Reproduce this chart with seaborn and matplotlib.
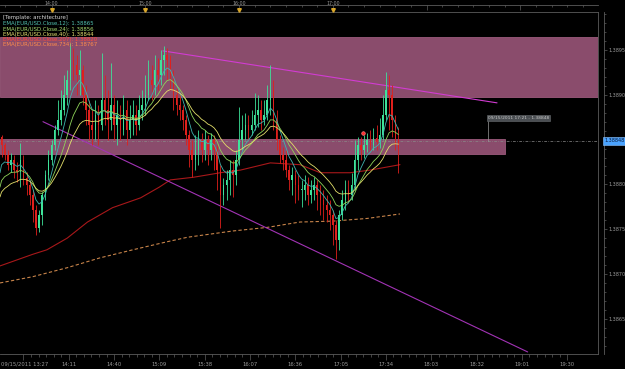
import numpy as np
import pandas as pd
import matplotlib
matplotlib.use("Agg")
import matplotlib.pyplot as plt
import matplotlib.transforms as mtrans
from matplotlib.patches import Rectangle
from matplotlib.ticker import FixedLocator
import seaborn as sns

# ---------------- data ----------------
bar_minutes = 2            # one candle = 2 minutes, t = minutes after 13:27
first_open = 1.38853
closes = [1.38844, 1.38833, 1.38822, 1.38827, 1.38816, 1.38814, 1.38827, 1.38807, 1.38799, 1.38788,
          1.38771, 1.38751, 1.38766, 1.38788, 1.38810, 1.38827, 1.38844, 1.38861, 1.38872, 1.38883,
          1.38900, 1.38917, 1.38939, 1.38933, 1.38922, 1.38928, 1.38900, 1.38883, 1.38866, 1.38861,
          1.38877, 1.38866, 1.38894, 1.38883, 1.38872, 1.38889, 1.38866, 1.38877, 1.38861, 1.38883,
          1.38861, 1.38872, 1.38877, 1.38866, 1.38883, 1.38889, 1.38900, 1.38917, 1.38911, 1.38928,
          1.38922, 1.38939, 1.38944, 1.38939, 1.38922, 1.38900, 1.38889, 1.38883, 1.38872, 1.38855,
          1.38838, 1.38827, 1.38838, 1.38850, 1.38838, 1.38850, 1.38838, 1.38850, 1.38838, 1.38816,
          1.38788, 1.38799, 1.38805, 1.38816, 1.38810, 1.38827, 1.38850, 1.38861, 1.38866, 1.38861,
          1.38866, 1.38877, 1.38883, 1.38872, 1.38877, 1.38894, 1.38905, 1.38872, 1.38850, 1.38833,
          1.38827, 1.38816, 1.38805, 1.38810, 1.38799, 1.38794, 1.38794, 1.38799, 1.38788, 1.38794,
          1.38799, 1.38788, 1.38783, 1.38777, 1.38771, 1.38766, 1.38755, 1.38738, 1.38766, 1.38783,
          1.38794, 1.38788, 1.38799, 1.38827, 1.38844, 1.38838, 1.38844, 1.38850, 1.38844, 1.38852,
          1.38847, 1.38855, 1.38877, 1.38905, 1.38900, 1.38872, 1.38850, 1.38841]
highs = [1.38855, 1.38846, 1.38838, 1.38835, 1.38833, 1.38825, 1.38846, 1.38833, 1.38814, 1.38805,
         1.38794, 1.38777, 1.38771, 1.38792, 1.38816, 1.38838, 1.38850, 1.38866, 1.38894, 1.38905,
         1.38922, 1.38928, 1.38958, 1.38952, 1.38944, 1.38950, 1.38933, 1.38911, 1.38894, 1.38883,
         1.38894, 1.38889, 1.38947, 1.38922, 1.38905, 1.38935, 1.38900, 1.38894, 1.38889, 1.38900,
         1.38894, 1.38889, 1.38894, 1.38889, 1.38900, 1.38905, 1.38922, 1.38939, 1.38933, 1.38944,
         1.38941, 1.38950, 1.38955, 1.38952, 1.38944, 1.38928, 1.38908, 1.38900, 1.38889, 1.38877,
         1.38861, 1.38850, 1.38855, 1.38861, 1.38857, 1.38861, 1.38855, 1.38857, 1.38855, 1.38844,
         1.38822, 1.38807, 1.38816, 1.38827, 1.38827, 1.38838, 1.38886, 1.38877, 1.38880, 1.38877,
         1.38883, 1.38902, 1.38900, 1.38894, 1.38894, 1.38911, 1.38933, 1.38917, 1.38883, 1.38855,
         1.38842, 1.38838, 1.38822, 1.38819, 1.38816, 1.38810, 1.38805, 1.38810, 1.38808, 1.38805,
         1.38808, 1.38805, 1.38799, 1.38794, 1.38788, 1.38783, 1.38771, 1.38760, 1.38771, 1.38794,
         1.38805, 1.38805, 1.38813, 1.38850, 1.38853, 1.38853, 1.38855, 1.38857, 1.38861, 1.38863,
         1.38866, 1.38874, 1.38900, 1.38925, 1.38922, 1.38911, 1.38877, 1.38864]
lows = [1.38831, 1.38827, 1.38816, 1.38814, 1.38807, 1.38803, 1.38797, 1.38799, 1.38788, 1.38777,
        1.38758, 1.38744, 1.38747, 1.38755, 1.38783, 1.38805, 1.38822, 1.38838, 1.38855, 1.38866,
        1.38877, 1.38889, 1.38905, 1.38917, 1.38900, 1.38900, 1.38889, 1.38866, 1.38850, 1.38844,
        1.38850, 1.38844, 1.38861, 1.38866, 1.38850, 1.38861, 1.38850, 1.38844, 1.38850, 1.38855,
        1.38844, 1.38852, 1.38855, 1.38855, 1.38861, 1.38872, 1.38877, 1.38894, 1.38894, 1.38900,
        1.38905, 1.38911, 1.38922, 1.38917, 1.38905, 1.38883, 1.38877, 1.38872, 1.38861, 1.38844,
        1.38819, 1.38808, 1.38816, 1.38822, 1.38825, 1.38827, 1.38822, 1.38827, 1.38816, 1.38794,
        1.38751, 1.38777, 1.38783, 1.38788, 1.38786, 1.38799, 1.38822, 1.38838, 1.38850, 1.38850,
        1.38855, 1.38861, 1.38864, 1.38861, 1.38866, 1.38872, 1.38877, 1.38861, 1.38838, 1.38824,
        1.38816, 1.38808, 1.38794, 1.38788, 1.38779, 1.38783, 1.38775, 1.38783, 1.38777, 1.38779,
        1.38783, 1.38771, 1.38766, 1.38760, 1.38758, 1.38749, 1.38732, 1.38717, 1.38727, 1.38760,
        1.38771, 1.38779, 1.38783, 1.38794, 1.38816, 1.38827, 1.38829, 1.38836, 1.38838, 1.38838,
        1.38838, 1.38841, 1.38850, 1.38872, 1.38861, 1.38853, 1.38838, 1.38813]

ema_periods = [12, 24, 40]
ema_start = [1.38813, 1.38797, 1.38786]          # EMA values at the left edge
ema207_t = [0, 21, 30, 43, 56, 72, 90, 102, 109, 124, 141, 154, 173, 192, 205, 224, 237, 256]
ema207_p = [1.38709, 1.38722, 1.38727, 1.38740, 1.38758, 1.38774, 1.38785, 1.38797, 1.38805,
            1.38808, 1.38813, 1.38816, 1.38824, 1.38822, 1.38813, 1.38813, 1.38816, 1.38822]
ema734_t = [0, 21, 43, 64, 85, 107, 120, 149, 171, 192, 213, 235, 256]
ema734_p = [1.38690, 1.38697, 1.38707, 1.38718, 1.38727, 1.38736, 1.38741, 1.38748, 1.38752,
            1.38758, 1.38759, 1.38762, 1.38767]

zone_upper = (1.38898, 1.38965)
zone_lower = (1.38834, 1.38851)
zone_lower_end = 323.2
trend_upper_t = [104.3, 318.1]
trend_upper_p = [1.38949, 1.38891]
trend_lower_t = [27.5, 337.7]
trend_lower_p = [1.38870, 1.38613]
last_price = 1.38848
last_price_label = "1.38848"
alert_t, alert_p = 232.3, 1.38857
note_t = 312.3
note_text = "09/15/2011 17:21 - 1.38848"

legend_lines = ["[Template: architecture]",
                "EMA(EUR/USD.Close,12): 1.38865",
                "EMA(EUR/USD.Close,24): 1.38856",
                "EMA(EUR/USD.Close,40): 1.38844",
                "EMA(EUR/USD.Close,207): 1.38820",
                "EMA(EUR/USD.Close,734): 1.38767"]
bottom_ticks = [15, 44, 73, 102, 131, 160, 189, 218, 247, 276, 305, 334, 363]
bottom_labels = ["", "14:11", "14:40", "15:09", "15:38", "16:07", "16:36", "17:05",
                 "17:34", "18:03", "18:32", "19:01", "19:30"]
first_label = "09/15/2011 13:27"
top_ticks = [33, 93, 153, 213, 273, 333]
top_labels = ["14:00", "15:00", "16:00", "17:00"]
price_ticks = [1.3865, 1.3870, 1.3875, 1.3880, 1.3890, 1.3895]

# ---------------- style ----------------
sns.set_theme(style="dark", rc={"axes.facecolor": "black", "figure.facecolor": "black"})
plt.rcParams["font.family"] = ["DejaVu Sans"]
GRAY = "#9a9a9a"
FRAME = "#5c5c5c"

W, H = 625, 369
fig = plt.figure(figsize=(W / 100, H / 100), dpi=100)
x0, x1, y0, y1 = 0, 598, 12, 354
ax = fig.add_axes([x0 / W, 1 - y1 / H, (x1 - x0) / W, (y1 - y0) / H])
ax.set_facecolor("black")
xmax = 598 / 1.5625
ax.set_xlim(0, xmax)
ax.set_ylim(1.386107, 1.389924)
ax.grid(False)

# zones
zc = "#8a4c6c"
ax.add_patch(Rectangle((0, zone_upper[0]), xmax, zone_upper[1] - zone_upper[0],
                       facecolor=zc, edgecolor="#9c5a7c", lw=0.6, zorder=1))
ax.add_patch(Rectangle((0, zone_lower[0]), zone_lower_end, zone_lower[1] - zone_lower[0],
                       facecolor=zc, edgecolor="#9c5a7c", lw=0.6, zorder=1))

# current price line
ax.axhline(last_price, color="#8a8a8a", lw=0.5, ls=(0, (4, 2, 1, 2)), zorder=1.5)

# candles
n = len(closes)
t = np.arange(n) * bar_minutes + 1.0
c = np.array(closes)
o = np.concatenate([[first_open], c[:-1]])
hi = np.array(highs)
lo = np.array(lows)
up = c >= o
col = np.where(up, "#3ee39a", "#e0201c")
ax.vlines(t, lo, hi, colors=col, lw=0.6, zorder=3)
body_lo = np.minimum(o, c)
body_h = np.maximum(np.abs(c - o), 0.000012)
ax.bar(t, body_h, bottom=body_lo, width=0.9, color=col, linewidth=0, zorder=3)

# short EMAs computed from closes (state at left edge)
ema_colors = ["#3fb5b0", "#8fd35a", "#e3df6a"]
for per, start, ccol in zip(ema_periods, ema_start, ema_colors):
    s = pd.Series([start] + closes)
    e = s.ewm(span=per / bar_minutes, adjust=False).mean().values
    tt = np.concatenate([[0], t])
    sns.lineplot(x=tt, y=e, ax=ax, color=ccol, lw=0.6, estimator=None, sort=False, zorder=4)

sns.lineplot(x=ema207_t, y=ema207_p, ax=ax, color="#a8181a", lw=0.8, estimator=None, zorder=2.5)
sns.lineplot(x=ema734_t, y=ema734_p, ax=ax, color="#c8844a", lw=0.8, estimator=None,
             linestyle=(0, (3, 2)), zorder=2.5)

# trend lines
sns.lineplot(x=trend_upper_t, y=trend_upper_p, ax=ax, color="#d23cd2", lw=0.8, estimator=None, zorder=2.6)
sns.lineplot(x=trend_lower_t, y=trend_lower_p, ax=ax, color="#a233b5", lw=0.8, estimator=None, zorder=2.6)

# alert marker
ax.plot([alert_t], [alert_p], marker="o", ms=2.6, color="#ff3030", mec="#ff9090", mew=0.4, zorder=6)

# note box with stem
ax.plot([note_t, note_t], [last_price, 1.38871], color="#9a9a9a", lw=0.5, zorder=5)
ax.text(note_t, 1.38874, note_text, fontsize=3.2, color="#c8c8c8",
        ha="left", va="center", zorder=6,
        bbox=dict(boxstyle="square,pad=0.25", fc="#4a4e52", ec="#6a6e72", lw=0.4))

# frame / spines
ax.spines["left"].set_visible(False)
for side in ["bottom", "top", "right"]:
    ax.spines[side].set_color(FRAME)
    ax.spines[side].set_linewidth(0.6)
ax.spines["right"].set_position(("outward", 4))
ax.plot([1, 1], [0, 1], transform=ax.transAxes, color=FRAME, lw=0.6, clip_on=False, zorder=7)

# bottom axis
ax.xaxis.set_major_locator(FixedLocator(bottom_ticks))
ax.set_xticklabels(bottom_labels)
minor = []
for a in bottom_ticks[:-1]:
    minor += list(a + np.arange(1, 6) * 29 / 6)
ax.xaxis.set_minor_locator(FixedLocator(minor))
ax.tick_params(axis="x", which="major", direction="out", length=4, width=0.5, color=FRAME,
               labelsize=3.8, labelcolor=GRAY, pad=1.5, bottom=True)
ax.tick_params(axis="x", which="minor", direction="out", length=2, width=0.5, color=FRAME, bottom=True)
fig.text(1 / W, 1 - 364 / H, first_label, fontsize=3.8, color=GRAY, ha="left", va="center")

# right price axis
ax.yaxis.tick_right()
ax.yaxis.set_major_locator(FixedLocator(price_ticks))
ax.set_yticklabels([f"{p:.4f}" for p in price_ticks])
ax.yaxis.set_minor_locator(FixedLocator(np.arange(1.3862, 1.3900, 0.0001)))
ax.tick_params(axis="y", which="major", direction="out", length=2.5, width=0.5, color=FRAME,
               labelsize=3.5, labelcolor=GRAY, pad=0.8, right=True, left=False)
ax.tick_params(axis="y", which="minor", direction="out", length=1.5, width=0.5, color=FRAME,
               right=True, left=False)
fig.text(604 / W, 1 - 141 / H, last_price_label, fontsize=3.5, color="#07183a", ha="left",
         va="center", bbox=dict(boxstyle="square,pad=0.3", fc="#4aa3ff", ec="#8cc4ff", lw=0.4))

# top time axis
axt = ax.twiny()
axt.set_xlim(0, xmax)
axt.grid(False)
axt.patch.set_visible(False)
for side in ["left", "right", "bottom"]:
    axt.spines[side].set_visible(False)
axt.spines["top"].set_position(("outward", 5))
axt.spines["top"].set_color(FRAME)
axt.spines["top"].set_linewidth(0.6)
axt.xaxis.set_major_locator(FixedLocator(top_ticks))
axt.xaxis.set_minor_locator(FixedLocator(np.arange(3, xmax, 10)))
axt.tick_params(axis="x", which="major", direction="in", length=3.5, width=0.5, color=FRAME,
                labeltop=False, labelbottom=False)
axt.tick_params(axis="x", which="minor", direction="in", length=1.5, width=0.5, color=FRAME)
top_tr = mtrans.blended_transform_factory(axt.transData, fig.transFigure)
for tk, lab in zip(top_ticks, top_labels):
    axt.text(tk, 1 - 3.2 / H, lab, transform=top_tr, fontsize=3.4, color=GRAY,
             ha="center", va="center", clip_on=False)
axt.plot(top_ticks[:len(top_labels)], [1 - 9.5 / H] * len(top_labels), transform=top_tr,
         ls="none", marker="v", ms=2.6, color="#d8a62a", clip_on=False)

# legend text block
legend_colors = ["#d8d8d8", "#52c0b0", "#a8dc70", "#e6e070", "#ff4a3a", "#ff8c4a"]
legend_y = [17.3, 23.5, 29.0, 34.2, 39.4, 44.6]
for txt, lc, ypx in zip(legend_lines, legend_colors, legend_y):
    fig.text(3 / W, 1 - ypx / H, txt, fontsize=3.9, color=lc, ha="left", va="center")

fig.savefig("out.png", dpi=100, facecolor="black")
